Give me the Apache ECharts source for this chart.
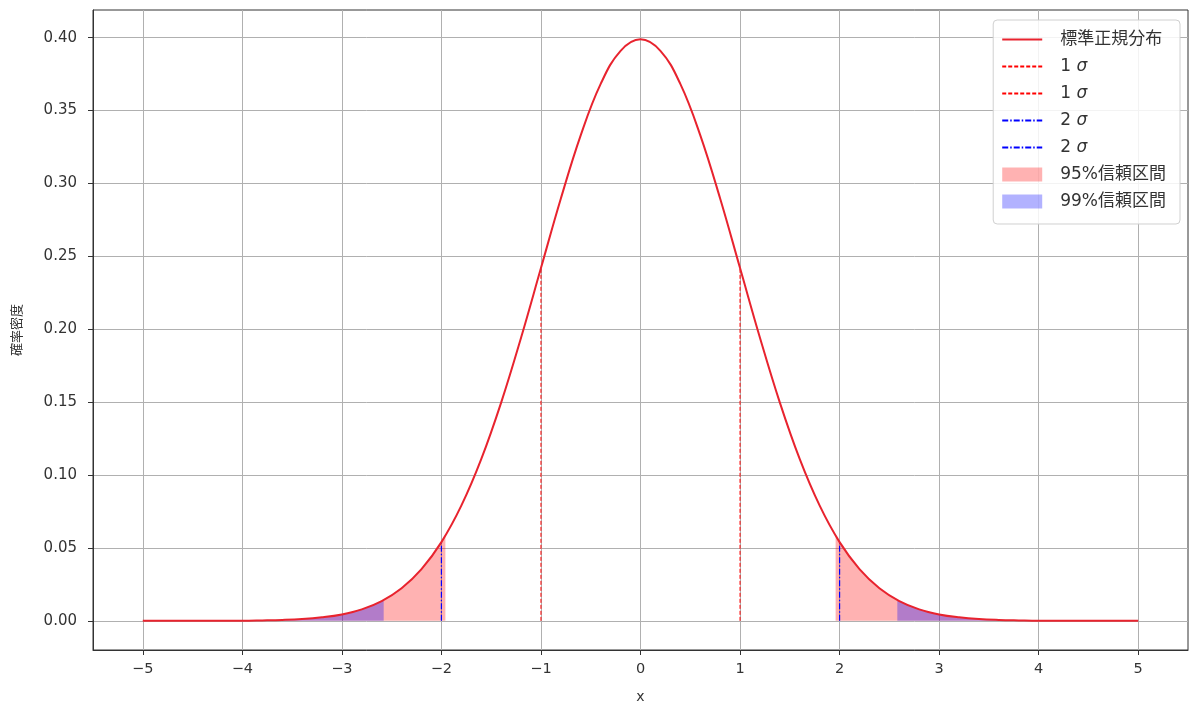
<!DOCTYPE html>
<html>
<head>
<meta charset="utf-8">
<script src="https://cdn.jsdelivr.net/npm/echarts@6/dist/echarts.min.js"></script>
<style>
  html, body { margin: 0; padding: 0; background: #fff; }
  #main { width: 1200px; height: 714px; }
</style>
</head>
<body>
<div id="main"></div>
<script>
// x positions of the curve samples
const xs = [-5.0, -4.8, -4.6, -4.4, -4.2, -4.0, -3.8, -3.6, -3.4, -3.2,
            -3.0, -2.8, -2.6, -2.4, -2.2, -2.0, -1.8, -1.6, -1.4, -1.2,
            -1.0, -0.8, -0.6, -0.4, -0.2, 0.0, 0.2, 0.4, 0.6, 0.8,
            1.0, 1.2, 1.4, 1.6, 1.8, 2.0, 2.2, 2.4, 2.6, 2.8,
            3.0, 3.2, 3.4, 3.6, 3.8, 4.0, 4.2, 4.4, 4.6, 4.8, 5.0];
// density values at those x
const density = [0.0000, 0.0000, 0.0000, 0.0000, 0.0001, 0.0001, 0.0003, 0.0006, 0.0012, 0.0024,
                 0.0044, 0.0079, 0.0136, 0.0224, 0.0355, 0.0540, 0.0790, 0.1109, 0.1497, 0.1942,
                 0.2420, 0.2897, 0.3332, 0.3683, 0.3910, 0.3989, 0.3910, 0.3683, 0.3332, 0.2897,
                 0.2420, 0.1942, 0.1497, 0.1109, 0.0790, 0.0540, 0.0355, 0.0224, 0.0136, 0.0079,
                 0.0044, 0.0024, 0.0012, 0.0006, 0.0003, 0.0001, 0.0001, 0.0000, 0.0000, 0.0000, 0.0000];

// vertical marker lines: x and height
const sigma1X = [-1, 1];
const sigma1Top = [0.2420, 0.2420];
const sigma2X = [-2, 2];
const sigma2Top = [0.0540, 0.0540];

// confidence interval edges and curve height there
const ci95Edge = 1.96;
const ci95Top = 0.0584;
const ci99Edge = 2.58;
const ci99Top = 0.0143;

const xTicks = [-5, -4, -3, -2, -1, 0, 1, 2, 3, 4, 5];
const yTicks = [0, 0.05, 0.10, 0.15, 0.20, 0.25, 0.30, 0.35, 0.40];

const jpFont = '"Noto Sans CJK JP", sans-serif';
const tickFont = '"DejaVu Sans", sans-serif';
const legendFont = '"DejaVu Sans", "Noto Sans CJK JP", sans-serif';

const curve = xs.map((x, i) => [x, density[i]]);

function tail(edge, top, side) {
  // side -1: left tail from -5 to -edge ; side 1: right tail from edge to 5
  let pts = curve.filter(p => side < 0 ? p[0] < -edge : p[0] > edge);
  if (side < 0) return pts.concat([[-edge, top]]);
  return [[edge, top]].concat(pts);
}

function vline(x, top) {
  return [[x, 0], [x, top]];
}

const chart = echarts.init(document.getElementById('main'));

const fillStyle = (color, data) => ({
  type: 'line',
  data: data,
  smooth: 0.4,
  symbol: 'none',
  lineStyle: { width: 0 },
  itemStyle: { color: color },
  areaStyle: { color: color, opacity: 1 },
  silent: true,
  z: 1
});

const redFill = 'rgba(255, 0, 0, 0.3)';
const blueFill = 'rgba(0, 0, 255, 0.3)';
const noSymbol = { color: 'transparent', borderColor: 'transparent', borderWidth: 0 };

const option = {
  animation: false,
  backgroundColor: '#fff',
  textStyle: { fontFamily: jpFont },
  grid: {
    left: 93, right: 12, top: 10, bottom: 64,
    show: true, borderColor: '#333', borderWidth: 1
  },
  legend: {
    orient: 'vertical',
    right: 20,
    top: 20,
    padding: [11, 14, 14, 8],
    itemWidth: 40,
    itemHeight: 14,
    itemGap: 10,
    backgroundColor: 'rgba(255,255,255,0.85)',
    borderColor: '#d0d0d0',
    borderWidth: 1,
    borderRadius: 4,
    textStyle: {
      fontFamily: legendFont, fontSize: 17, color: '#333', padding: [0, 0, 0, 13],
      rich: { i: { fontStyle: 'italic', fontSize: 17, fontFamily: tickFont, color: '#333' } }
    },
    formatter: name => name.indexOf('σ') >= 0 ? name.trim().replace('σ', ' {i|σ}') : name,
    data: [
      { name: '標準正規分布', itemStyle: noSymbol },
      { name: '1σ', itemStyle: noSymbol },
      { name: '1σ ', itemStyle: noSymbol },
      { name: '2σ', itemStyle: noSymbol },
      { name: '2σ ', itemStyle: noSymbol },
      { name: '95%信頼区間', icon: 'rect' },
      { name: '99%信頼区間', icon: 'rect' }
    ]
  },
  xAxis: {
    type: 'value',
    min: -5.5,
    max: 5.5,
    name: 'x',
    nameLocation: 'middle',
    nameGap: 40,
    nameTextStyle: { fontSize: 14, color: '#333', fontFamily: tickFont },
    axisLine: { show: true, onZero: false, lineStyle: { color: '#333' } },
    axisTick: { show: true, length: 5, lineStyle: { color: '#333' }, customValues: xTicks },
    axisLabel: {
      customValues: xTicks, fontSize: 14.5, color: '#333', margin: 12, fontFamily: tickFont,
      formatter: v => (v < 0 ? '\u2212' + Math.abs(v) : String(v))
    },
    splitLine: { show: true, lineStyle: { color: '#b0b0b0', width: 1 } }
  },
  yAxis: {
    type: 'value',
    min: -0.02,
    max: 0.419,
    name: '確率密度',
    nameLocation: 'middle',
    nameGap: 70,
    nameTextStyle: { fontSize: 13, color: '#333' },
    axisLine: { show: true, onZero: false, lineStyle: { color: '#333' } },
    axisTick: { show: true, length: 5, lineStyle: { color: '#333' }, customValues: yTicks },
    axisLabel: {
      customValues: yTicks, fontSize: 15, color: '#333', margin: 16, fontFamily: tickFont,
      formatter: v => v.toFixed(2)
    },
    splitLine: { show: true, lineStyle: { color: '#b0b0b0', width: 1 } }
  },
  series: [
    Object.assign({ name: '95%信頼区間' }, fillStyle(redFill, tail(ci95Edge, ci95Top, -1))),
    Object.assign({ name: '95%信頼区間' }, fillStyle(redFill, tail(ci95Edge, ci95Top, 1))),
    Object.assign({ name: '99%信頼区間' }, fillStyle(blueFill, tail(ci99Edge, ci99Top, -1))),
    Object.assign({ name: '99%信頼区間' }, fillStyle(blueFill, tail(ci99Edge, ci99Top, 1))),
    {
      name: '1σ', type: 'line', data: vline(sigma1X[0], sigma1Top[0]), symbol: 'none',
      lineStyle: { color: '#ff0000', width: 1, type: [4, 2] }, itemStyle: { color: '#ff0000' }, z: 3
    },
    {
      name: '1σ ', type: 'line', data: vline(sigma1X[1], sigma1Top[1]), symbol: 'none',
      lineStyle: { color: '#ff0000', width: 1, type: [4, 2] }, itemStyle: { color: '#ff0000' }, z: 3
    },
    {
      name: '2σ', type: 'line', data: vline(sigma2X[0], sigma2Top[0]), symbol: 'none',
      lineStyle: { color: '#0000ff', width: 1.2, type: [6, 2, 1.5, 2] }, itemStyle: { color: '#0000ff' }, z: 3
    },
    {
      name: '2σ ', type: 'line', data: vline(sigma2X[1], sigma2Top[1]), symbol: 'none',
      lineStyle: { color: '#0000ff', width: 1.2, type: [6, 2, 1.5, 2] }, itemStyle: { color: '#0000ff' }, z: 3
    },
    {
      name: '標準正規分布', type: 'line', data: curve, smooth: 0.4, symbol: 'none',
      lineStyle: { color: '#e8232e', width: 2 }, itemStyle: { color: '#e8232e' }, z: 4
    }
  ]
};

chart.setOption(option);
</script>
</body>
</html>
